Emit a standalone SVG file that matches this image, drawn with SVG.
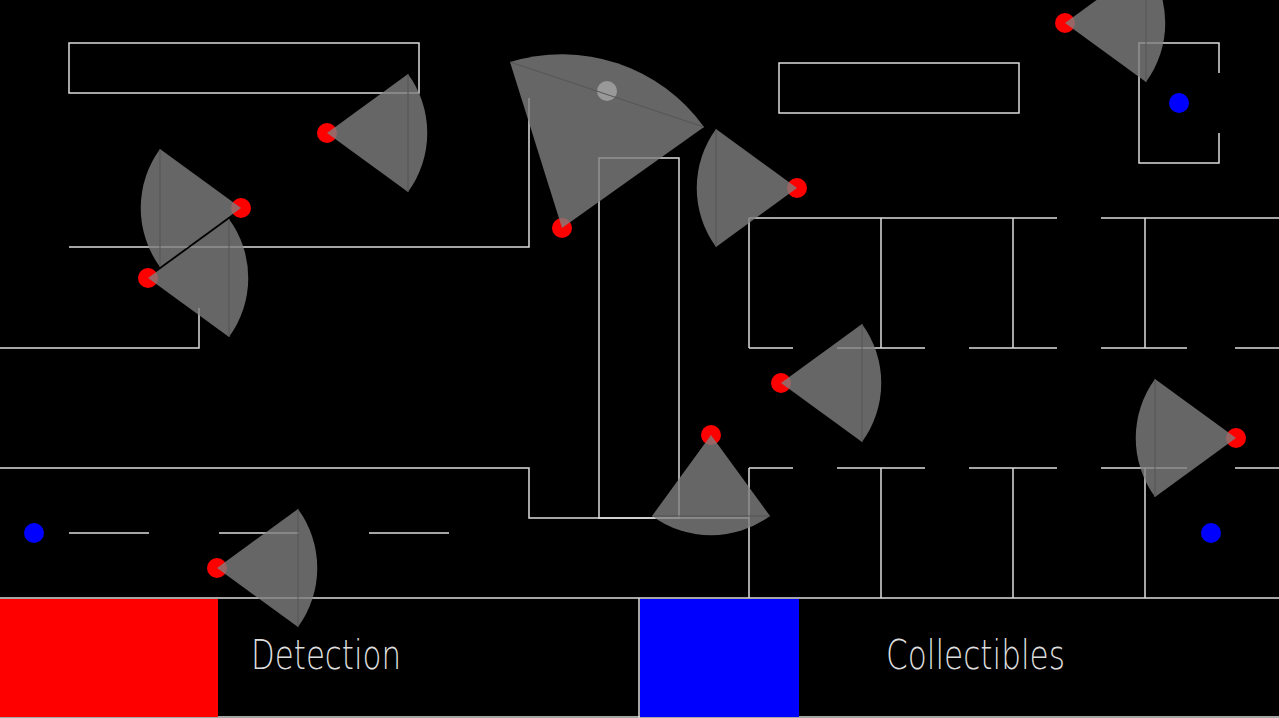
<svg xmlns="http://www.w3.org/2000/svg" width="1279" height="718" viewBox="0 0 1279 718">
<style>
.w{fill:none;stroke:#ddd;stroke-width:1.5}
.cone{fill:#808080;fill-opacity:0.8}
.ch{stroke:#555;stroke-width:1}
.g{fill:#f00}
.c{fill:#00f}
.t{font-family:"DejaVu Sans",sans-serif;font-weight:200;font-size:40px;fill:#ddd}
</style>
<rect width="1279" height="718" fill="#000"/>
<g id="walls">
<rect class="w" x="69" y="43" width="350" height="50"/>
<polyline class="w" points="69,247 529,247 529,98"/>
<polyline class="w" points="0,348 199,348 199,308"/>
<rect class="w" x="599" y="158" width="80" height="360"/>
<polyline class="w" points="0,468 529,468 529,518 749,518"/>
<path class="w" d="M69 533H149M219 533H299M369 533H449"/>
<rect class="w" x="779" y="63" width="240" height="50"/>
<polyline class="w" points="1219,73 1219,43 1139,43 1139,163 1219,163 1219,133"/>
<path class="w" d="M749 218H1057M1101 218H1279M749 218V348M881 218V348M1013 218V348M1145 218V348M749 348H793M837 348H925M969 348H1057M1101 348H1187M1235 348H1279M749 468H793M837 468H925M969 468H1057M1101 468H1187M1235 468H1279M749 468V598M881 468V598M1013 468V598M1145 468V598M0 598H1279M639 598V718M0 717H1279"/>
</g>
<g id="legend">
<rect x="0" y="599" width="218" height="118" fill="#f00"/>
<rect x="640" y="599" width="159" height="118" fill="#00f"/>
<text class="t" x="251" y="669" textLength="150" lengthAdjust="spacingAndGlyphs">Detection</text>
<text class="t" x="886" y="669" textLength="179" lengthAdjust="spacingAndGlyphs">Collectibles</text>
</g>
<line x1="148" y1="278" x2="241" y2="208" stroke="#000" stroke-width="2"/>
<g id="items">
<circle class="c" cx="34" cy="533" r="10"/>
<circle class="c" cx="1179" cy="103" r="10"/>
<circle class="c" cx="1211" cy="533" r="10"/>
<circle cx="607" cy="91" r="10" fill="#fff"/>
</g>
<g id="guards">
<circle class="g" cx="327" cy="133" r="10"/>
<circle class="g" cx="241" cy="208" r="10"/>
<circle class="g" cx="148" cy="278" r="10"/>
<circle class="g" cx="562" cy="228" r="10"/>
<circle class="g" cx="797" cy="188" r="10"/>
<circle class="g" cx="1065" cy="23" r="10"/>
<circle class="g" cx="781" cy="383" r="10"/>
<circle class="g" cx="1236" cy="438" r="10"/>
<circle class="g" cx="711" cy="435" r="10"/>
<circle class="g" cx="217" cy="568" r="10"/>
</g>
<g id="cones">
<path class="cone" d="M327 133L408 74A100 100 0 0 1 408 192Z"/>
<path class="cone" d="M241 208L160 267A100 100 0 0 1 160 149Z"/>
<path class="cone" d="M148 278L229 219A100 100 0 0 1 229 337Z"/>
<path class="cone" d="M562 228L510 62A175 175 0 0 1 704 127Z"/>
<path class="cone" d="M797 188L716 247A100 100 0 0 1 716 129Z"/>
<path class="cone" d="M1065 23L1146 -36A100 100 0 0 1 1146 82Z"/>
<path class="cone" d="M781 383L862 324A100 100 0 0 1 862 442Z"/>
<path class="cone" d="M1236 438L1155 497A100 100 0 0 1 1155 379Z"/>
<path class="cone" d="M711 435L770 516A100 100 0 0 1 652 516Z"/>
<path class="cone" d="M217 568L298 509A100 100 0 0 1 298 627Z"/>
<path class="ch" d="M408 74V192M160 267V149M229 219V337M510 62L704 127M716 247V129M1146 -36V82M862 324V442M1155 497V379M770 516H652M298 509V627"/>
</g>
</svg>
